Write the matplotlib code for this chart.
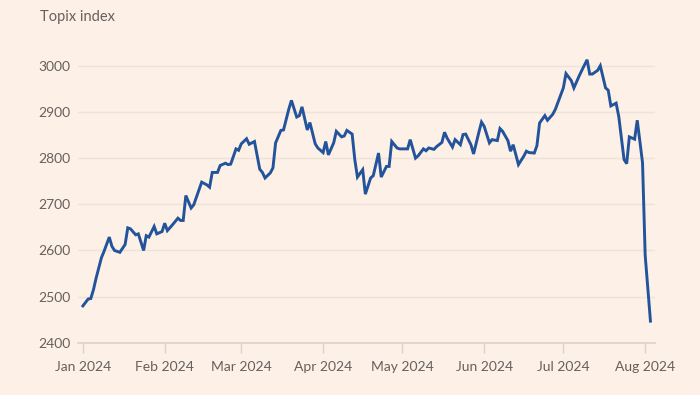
import matplotlib
matplotlib.use("Agg")
import matplotlib.pyplot as plt
import matplotlib.dates as mdates
import pandas as pd

# days since 1 Jan 2024
day_offsets = [
    0, 2, 3, 4, 5, 7, 8, 10, 11, 12, 14, 16, 17, 18, 20, 21, 23, 24, 25, 27,
    28, 30, 31, 32, 34, 36, 37, 38, 39, 41, 42, 44, 45, 47, 48, 49, 51, 52, 54, 55,
    56, 58, 59, 60, 62, 63, 65, 67, 68, 69, 71, 72, 73, 75, 76, 78, 79, 81, 82, 83,
    85, 86, 88, 89, 91, 92, 93, 95, 96, 98, 99, 100, 102, 103, 104, 106, 107, 109, 110, 112,
    113, 115, 116, 117, 119, 120, 122, 123, 124, 126, 127, 129, 130, 131, 133, 134, 136, 137, 138, 140,
    141, 143, 144, 145, 147, 148, 150, 151, 152, 154, 155, 157, 158, 159, 161, 162, 163, 165, 167, 168,
    169, 171, 172, 173, 175, 176, 178, 179, 181, 182, 183, 185, 186, 188, 189, 191, 192, 193, 195, 196,
    198, 199, 200, 202, 203, 205, 206, 207, 209, 210, 212, 213, 215,
]
topix = [
    2480, 2495, 2496, 2515, 2540, 2584, 2598, 2629, 2609, 2600, 2596, 2613, 2649, 2647, 2634, 2636, 2600, 2632, 2629, 2652,
    2636, 2641, 2659, 2643, 2656, 2670, 2665, 2665, 2719, 2692, 2699, 2732, 2748, 2742, 2737, 2769, 2769, 2784, 2789, 2786,
    2787, 2820, 2817, 2831, 2842, 2830, 2836, 2776, 2769, 2757, 2768, 2779, 2833, 2860, 2861, 2906, 2925, 2889, 2892, 2911,
    2861, 2877, 2831, 2822, 2812, 2836, 2807, 2833, 2858, 2846, 2848, 2860, 2852, 2797, 2759, 2775, 2722, 2757, 2762, 2811,
    2759, 2782, 2782, 2836, 2822, 2820, 2820, 2820, 2840, 2800, 2805, 2820, 2816, 2822, 2819, 2825, 2834, 2856, 2843, 2824,
    2840, 2829, 2851, 2852, 2829, 2809, 2856, 2878, 2869, 2833, 2840, 2838, 2864, 2858, 2838, 2815, 2829, 2786, 2804, 2815,
    2812, 2811, 2827, 2876, 2892, 2882, 2895, 2906, 2937, 2952, 2983, 2968, 2952, 2978, 2990, 3013, 2982, 2982, 2990, 3000,
    2952, 2947, 2913, 2919, 2890, 2797, 2788, 2846, 2841, 2882, 2790, 2590, 2447,
]
y_ticks = [2400, 2500, 2600, 2700, 2800, 2900, 3000]
month_starts = ["2024-01-01", "2024-02-01", "2024-03-01", "2024-04-01",
                "2024-05-01", "2024-06-01", "2024-07-01", "2024-08-01"]

bg = "#FDF0E6"
grid_col = "#EDE3DA"
text_col = "#66605C"
line_col = "#23539A"

plt.rcParams["font.family"] = ["Lato", "DejaVu Sans"]

dates = pd.Timestamp("2024-01-01") + pd.to_timedelta(day_offsets, unit="D")

fig = plt.figure(figsize=(7, 3.95), dpi=100, facecolor=bg)
ax = fig.add_axes([0.112, 0.132, 0.824, 0.76])
ax.set_facecolor(bg)

ax.plot(dates, topix, color=line_col, linewidth=2.1, solid_joinstyle="miter")

ax.set_ylim(2400, 3050)
ax.set_yticks(y_ticks)
ax.set_xlim(pd.Timestamp("2024-01-01") - pd.Timedelta(days=1.7),
            pd.Timestamp("2024-01-01") + pd.Timedelta(days=216.8))
ax.set_xticks(pd.to_datetime(month_starts))
ax.xaxis.set_major_formatter(mdates.DateFormatter("%b %Y"))

ax.grid(axis="y", color=grid_col, linewidth=1)
ax.set_axisbelow(True)
for side in ["top", "right", "left"]:
    ax.spines[side].set_visible(False)
ax.spines["bottom"].set_color("#DDD2C8")
ax.spines["bottom"].set_linewidth(1.2)

ax.tick_params(axis="y", length=0, pad=6, labelsize=10, labelcolor=text_col)
ax.tick_params(axis="x", length=7, width=1, color="#DDD2C8", pad=6,
               labelsize=10, labelcolor=text_col)

fig.text(40 / 700, 1 - 17 / 395, "Topix index", fontsize=10.5, color=text_col,
         ha="left", va="center")

fig.savefig("out.png", dpi=100, facecolor=bg)
